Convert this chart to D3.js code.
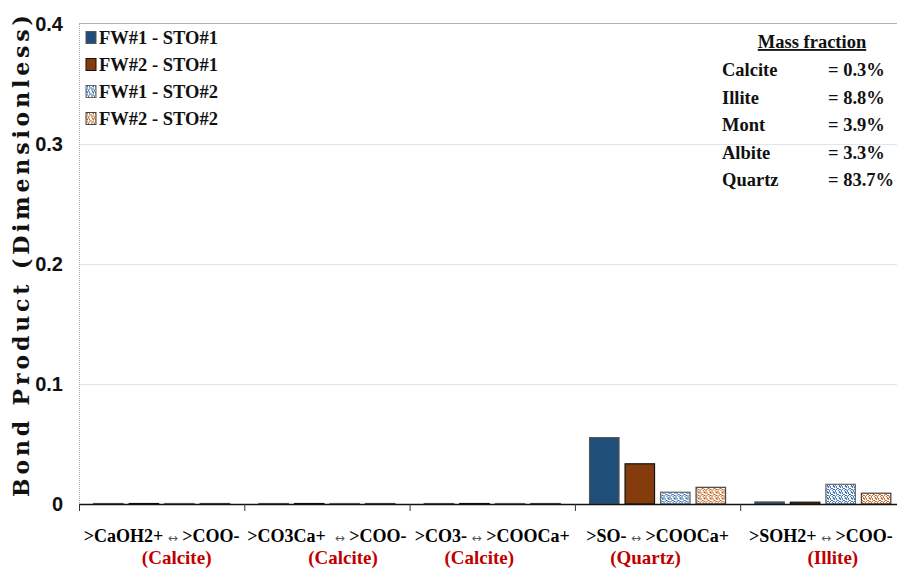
<!DOCTYPE html>
<html>
<head>
<meta charset="utf-8">
<script src="https://cdn.jsdelivr.net/npm/d3@7/dist/d3.min.js"></script>
<style>
  html, body { margin: 0; padding: 0; background: #fff; }
  svg { display: block; }
  text { white-space: pre; }
</style>
</head>
<body>
<svg id="chart" width="897" height="569"></svg>
<script>
// Surface-complexation pairs along the x axis
const pairLeft   = [">CaOH2+", ">CO3Ca+ ", ">CO3-", ">SO-", ">SOH2+"];
const pairRight  = [">COO-", ">COO-", ">COOCa+", ">COOCa+", ">COO-"];
const pairMineral = ["(Calcite)", "(Calcite)", "(Calcite)", "(Quartz)", "(Illite)"];

// Bond product per pair, one array per fluid / oil combination
const seriesNames = ["FW#1 - STO#1", "FW#2 - STO#1", "FW#1 - STO#2", "FW#2 - STO#2"];
const fw1Sto1 = [0.0004, 0.0004, 0.0004, 0.0553, 0.0017];
const fw2Sto1 = [0.0004, 0.0004, 0.0004, 0.0335, 0.0015];
const fw1Sto2 = [0.0004, 0.0004, 0.0004, 0.0098, 0.0164];
const fw2Sto2 = [0.0004, 0.0004, 0.0004, 0.0139, 0.0090];

// Rock composition
const rockMinerals = ["Calcite", "Illite", "Mont", "Albite", "Quartz"];
const massFractions = [0.3, 8.8, 3.9, 3.3, 83.7];

// Axis ticks
const yTicks = [0, 0.1, 0.2, 0.3, 0.4];

const seriesValues = [fw1Sto1, fw2Sto1, fw1Sto2, fw2Sto2];

const svg = d3.select("#chart");
const plot = { left: 79, top: 24, bottom: 504, catWidth: 165.3 };

const x = d3.scaleBand()
  .domain(d3.range(pairLeft.length))
  .range([plot.left, plot.left + plot.catWidth * pairLeft.length])
  .paddingInner(0).paddingOuter(0);

const groupWidth = 136;
const xs = d3.scaleBand()
  .domain(d3.range(seriesNames.length))
  .range([0, groupWidth])
  .paddingInner(0.17).paddingOuter(0);

const y = d3.scaleLinear().domain([0, 0.4]).range([plot.bottom, plot.top]);

// Fill patterns for the STO#2 series
const defs = svg.append("defs");
function speckle(id, color) {
  const p = defs.append("pattern").attr("id", id)
    .attr("patternUnits", "userSpaceOnUse").attr("width", 6).attr("height", 6);
  p.append("rect").attr("width", 6).attr("height", 6).attr("fill", "#fff");
  const dots = [[0,0,2,1],[1,1,1,1],[3,0,1,2],[4,2,2,1],[0,3,2,1],[2,4,1,2],[5,4,1,1],[3,3,1,1],[0,5,1,1]];
  dots.forEach(d => p.append("rect").attr("x", d[0]).attr("y", d[1])
    .attr("width", d[2]).attr("height", d[3]).attr("fill", color));
}
speckle("blueSpeckle", "#2e6aa8");
speckle("brownSpeckle", "#c0631f");

const fills = ["#1f4e79", "#843c0c", "url(#blueSpeckle)", "url(#brownSpeckle)"];
const strokes = ["#555", "#111", "#666", "#444"];

// Gridlines
svg.append("g").selectAll("line")
  .data([0.1, 0.2, 0.3])
  .join("line")
  .attr("x1", plot.left).attr("x2", 897)
  .attr("y1", d => y(d) + 0.5).attr("y2", d => y(d) + 0.5)
  .attr("stroke", "#dfe5ec").attr("stroke-width", 1);

// Plot frame: top edge and dotted left edge
svg.append("line")
  .attr("x1", plot.left).attr("x2", 897)
  .attr("y1", y(0.4) - 0.5).attr("y2", y(0.4) - 0.5)
  .attr("stroke", "#b3b3b3").attr("stroke-width", 1.2);
svg.append("line")
  .attr("x1", plot.left + 0.5).attr("x2", plot.left + 0.5)
  .attr("y1", y(0.4)).attr("y2", plot.bottom)
  .attr("stroke", "#aaa").attr("stroke-width", 1)
  .attr("stroke-dasharray", "1,1");

// Bars
const groups = svg.append("g").selectAll("g")
  .data(d3.range(pairLeft.length))
  .join("g")
  .attr("transform", i => `translate(${x(i) + (x.bandwidth() - groupWidth) / 2},0)`);

groups.selectAll("rect")
  .data(i => seriesValues.map((vals, s) => ({ s, v: vals[i] })))
  .join("rect")
  .attr("x", d => xs(d.s))
  .attr("width", xs.bandwidth())
  .attr("y", d => y(d.v))
  .attr("height", d => y(0) - y(d.v))
  .attr("fill", d => fills[d.s])
  .attr("stroke", d => strokes[d.s])
  .attr("stroke-width", 1.2);

// X axis line and category boundary ticks
svg.append("line")
  .attr("x1", plot.left).attr("x2", 897)
  .attr("y1", plot.bottom + 0.5).attr("y2", plot.bottom + 0.5)
  .attr("stroke", "#111").attr("stroke-width", 1.5);
svg.append("g").selectAll("line")
  .data(d3.range(pairLeft.length + 1))
  .join("line")
  .attr("x1", i => plot.left + i * x.step() + 0.5)
  .attr("x2", i => plot.left + i * x.step() + 0.5)
  .attr("y1", plot.bottom).attr("y2", plot.bottom + 7)
  .attr("stroke", "#333").attr("stroke-width", 1);

// Category labels
const serif = "'Liberation Serif', 'Times New Roman', serif";
const mineralShift = [15, 16, -13, -12, 10];
const labelShift = [0, 0, 0, 0, -2];
const catLabels = svg.append("g").selectAll("text")
  .data(d3.range(pairLeft.length))
  .join("text")
  .attr("x", i => x(i) + x.bandwidth() / 2 + labelShift[i])
  .attr("y", 542)
  .attr("text-anchor", "middle")
  .attr("font-family", serif)
  .attr("font-weight", "bold")
  .attr("font-size", 18)
  .attr("fill", "#000");
catLabels.append("tspan").text(i => pairLeft[i] + " ");
catLabels.append("tspan").text("↔")
  .attr("font-family", "'DejaVu Sans', sans-serif")
  .attr("font-weight", "normal").attr("font-size", 12).attr("fill", "#555");
catLabels.append("tspan").text(i => " " + pairRight[i]);

svg.append("g").selectAll("text")
  .data(d3.range(pairMineral.length))
  .join("text")
  .attr("x", i => x(i) + x.bandwidth() / 2 + mineralShift[i])
  .attr("y", 564)
  .attr("text-anchor", "middle")
  .attr("font-family", serif)
  .attr("font-weight", "bold")
  .attr("font-size", 19)
  .attr("fill", "#c00000")
  .text(i => pairMineral[i]);

// Y axis tick labels
svg.append("g").selectAll("text")
  .data(yTicks)
  .join("text")
  .attr("x", 63)
  .attr("y", d => y(d) + 7)
  .attr("text-anchor", "end")
  .attr("font-family", "'Liberation Sans Narrow', 'Arial Narrow', 'Liberation Sans', sans-serif")
  .attr("font-weight", "bold")
  .attr("font-size", 20)
  .attr("fill", "#111")
  .text(d => d === 0 ? "0" : d3.format(".1f")(d));

// Y axis title
svg.append("text")
  .attr("transform", "translate(29,256) rotate(-90)")
  .attr("text-anchor", "middle")
  .attr("font-family", "'DejaVu Serif', serif")
  .attr("font-weight", "bold")
  .attr("font-size", 22)
  .attr("textLength", 482)
  .attr("lengthAdjust", "spacing")
  .attr("fill", "#111")
  .text("Bond Product (Dimensionless)");

// Legend
const legend = svg.append("g").attr("transform", "translate(86,0)");
const legendRows = legend.selectAll("g")
  .data(seriesNames)
  .join("g")
  .attr("transform", (d, i) => `translate(0,${37.5 + i * 27})`);
legendRows.append("rect")
  .attr("x", 0).attr("y", -6).attr("width", 10).attr("height", 12)
  .attr("fill", (d, i) => fills[i])
  .attr("stroke", (d, i) => strokes[i]).attr("stroke-width", 1);
legendRows.append("text")
  .attr("x", 13).attr("y", 6.5)
  .attr("font-family", serif)
  .attr("font-weight", "bold")
  .attr("font-size", 18.5)
  .attr("fill", "#111")
  .text(d => d);

// Mass fraction table
const table = svg.append("g");
table.append("text")
  .attr("x", 812).attr("y", 48)
  .attr("text-anchor", "middle")
  .attr("font-family", serif)
  .attr("font-weight", "bold")
  .attr("font-size", 18.5)
  .attr("text-decoration", "underline")
  .attr("fill", "#111")
  .text("Mass fraction");
const tRows = table.selectAll("g")
  .data(rockMinerals)
  .join("g")
  .attr("transform", (d, i) => `translate(0,${76 + i * 27.5})`);
tRows.append("text")
  .attr("x", 722)
  .attr("font-family", serif).attr("font-weight", "bold").attr("font-size", 18.5)
  .attr("fill", "#111")
  .text(d => d);
tRows.append("text")
  .attr("x", 828)
  .attr("font-family", serif).attr("font-weight", "bold").attr("font-size", 18.5)
  .attr("fill", "#111")
  .text((d, i) => "= " + massFractions[i] + "%");
</script>
</body>
</html>
